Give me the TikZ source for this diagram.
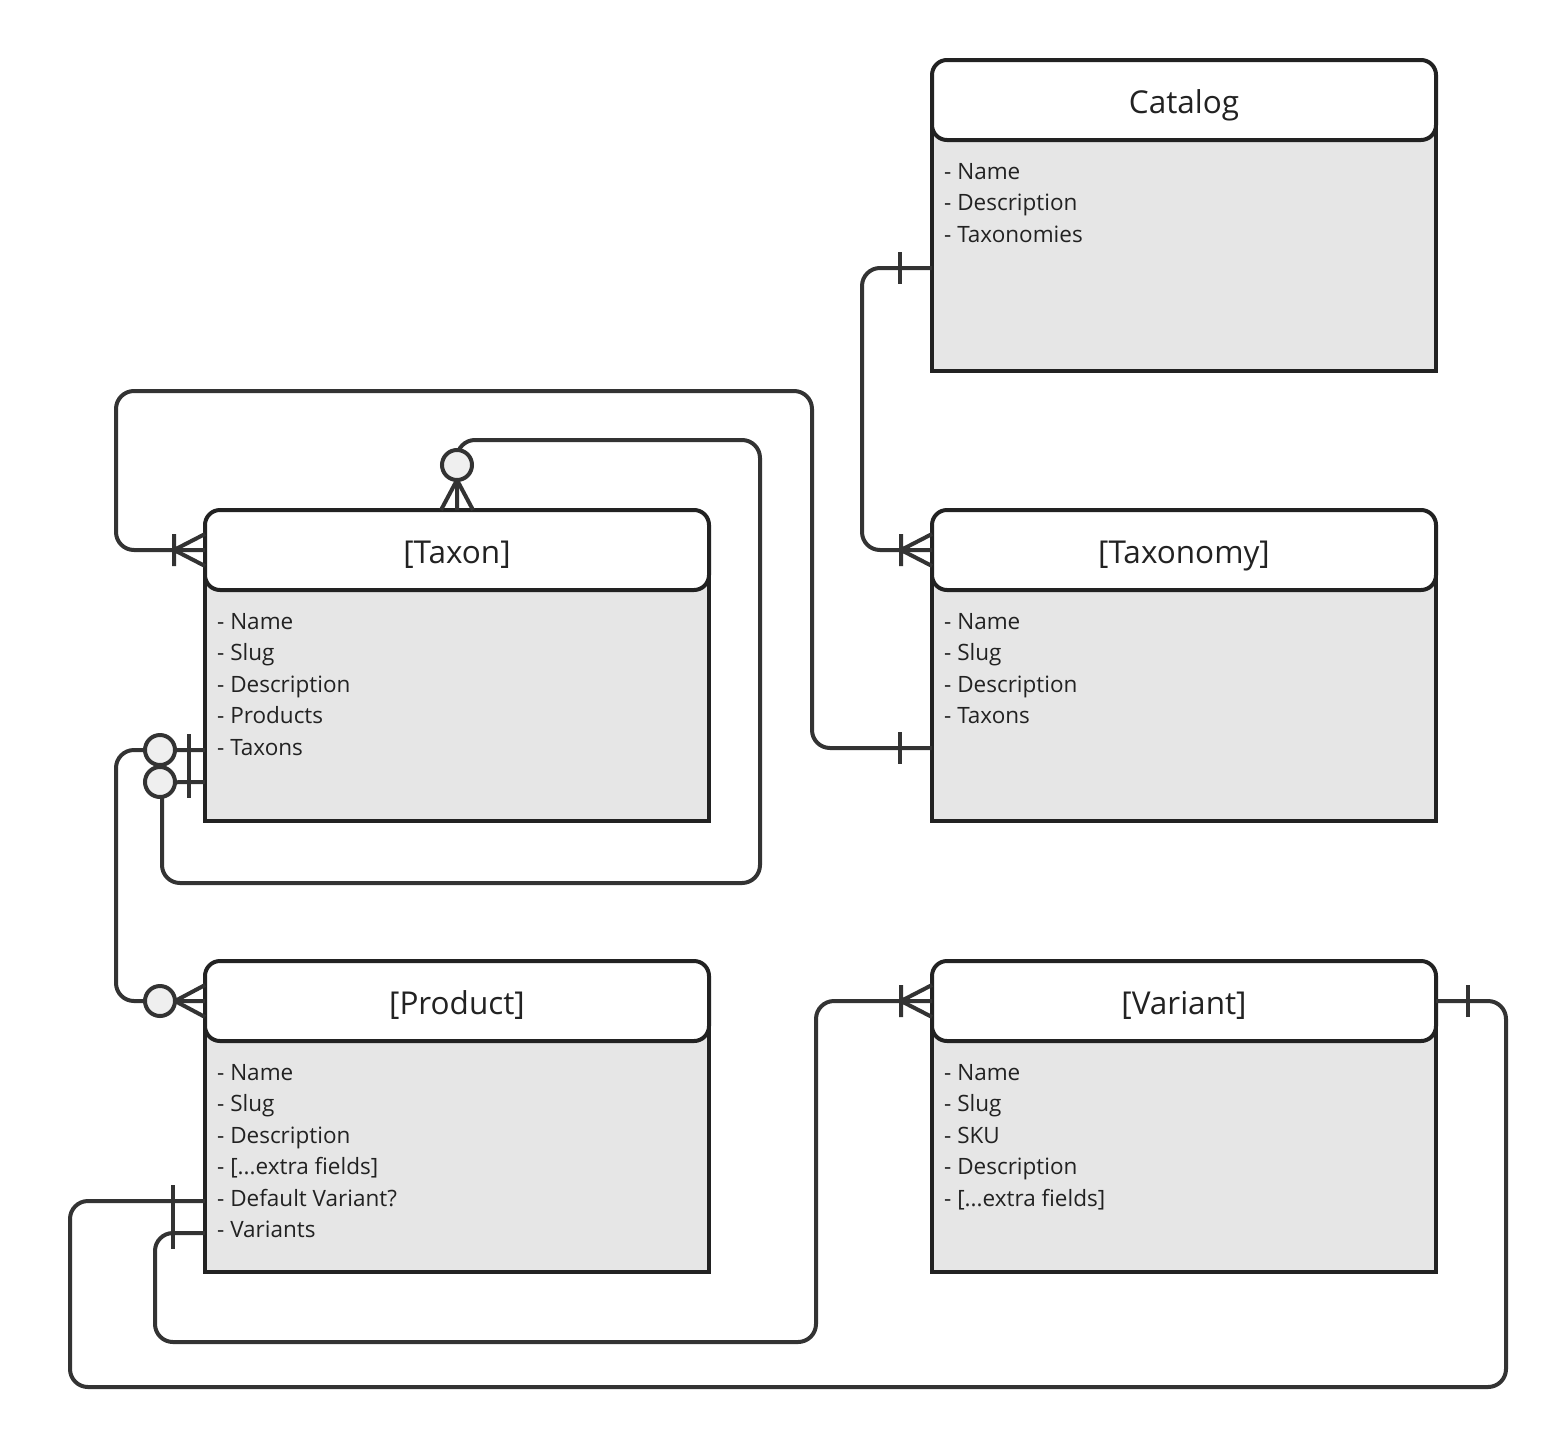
\documentclass[tikz,border=0pt]{standalone}
\usepackage{fontspec}
\setmainfont{Open Sans}

\definecolor{edge}{HTML}{222222}
\definecolor{conn}{HTML}{333333}
\definecolor{ink}{HTML}{222222}
\definecolor{bodyfill}{HTML}{E6E6E6}
\definecolor{dot}{HTML}{EFEFEF}

\tikzset{
	header/.style={draw=edge, line width=4pt, fill=white, rounded corners=15pt, minimum width=504pt, minimum height=80pt, inner sep=0pt, outer sep=0pt, text height=27pt, text depth=0pt, text=ink, font=\fontsize{31.5}{36}\selectfont},
	body/.style={draw=edge, line width=4pt, fill=bodyfill, minimum width=504pt, minimum height=271pt, outer sep=0pt},
	fields/.style={anchor=north west, inner sep=0pt, align=left, text=ink, font=\fontsize{22.5}{31.5}\selectfont},
	conn/.style={draw=conn, line width=4pt, rounded corners=18pt},
	marker/.style={draw=conn, line width=4pt},
	one-mark/.pic={\draw[marker] (-32,-16) -- (-32,16);},
	many-mark/.pic={\draw[marker] (0,-16) -- (-31,0) -- (0,16) (-31,-16) -- (-31,16);},
	zero-one-mark/.pic={\draw[marker] (-16,-16) -- (-16,16); \draw[marker, fill=dot] (-45,0) circle[radius=15pt];},
	zero-many-mark/.pic={\draw[marker] (0,-16) -- (-30,0) -- (0,16); \draw[marker, fill=dot] (-45,0) circle[radius=15pt];}
}

\begin{document}
\begin{tikzpicture}[x=1pt, y=-1pt]
			\fill[white] (0,0) rectangle (1562,1448);
			\useasboundingbox (0,0) rectangle (1562,1448);

			% entities
			\node[body] 	(catalog-body) 	at (1184, 235.5) 	{};
			\node[header] 	(catalog) 		at (1184, 100) 		{Catalog};
			\node[fields] 	(catalog-fields) 	at (944, 157) 	{\strut- Name\\- Description\\- Taxonomies};

			\node[body] 	(taxonomy-body) 	at (1184, 685.5) 	{};
			\node[header] 	(taxonomy) 		at (1184, 550) 		{[Taxonomy]};
			\node[fields] 	(taxonomy-fields) 	at (944, 607) 	{\strut- Name\\- Slug\\- Description\\- Taxons};

			\node[body] 	(taxon-body) 	at (457, 685.5) 	{};
			\node[header] 	(taxon) 		at (457, 550) 		{[Taxon]};
			\node[fields] 	(taxon-fields) 	at (217, 607) 	{\strut- Name\\- Slug\\- Description\\- Products\\- Taxons};

			\node[body] 	(product-body) 	at (457, 1136.5) 	{};
			\node[header] 	(product) 		at (457, 1001) 		{[Product]};
			\node[fields] 	(product-fields) 	at (217, 1058) 	{\strut- Name\\- Slug\\- Description\\- [...extra fields]\\- Default Variant?\\- Variants};

			\node[body] 	(variant-body) 	at (1184, 1136.5) 	{};
			\node[header] 	(variant) 		at (1184, 1001) 		{[Variant]};
			\node[fields] 	(variant-fields) 	at (944, 1058) 	{\strut- Name\\- Slug\\- SKU\\- Description\\- [...extra fields]};

			% attachment points on the fields
			\coordinate (catalog-taxonomies) 	at (932, 268);
			\coordinate (taxonomy-taxons) 	at (932, 748);
			\coordinate (taxon-taxons) 		at (205, 750);
			\coordinate (taxon-parent) 		at (205, 782);
			\coordinate (product-default) 	at (205, 1201);
			\coordinate (product-variants) 	at (205, 1233);

			% relations
			\draw[conn] (catalog-taxonomies) -- ++(-70,0) |- (taxonomy.west);
			\draw[conn] (taxonomy-taxons) -| (812,391) -| (116,550) -- (taxon.west);
			\draw[conn] (taxon.north) |- (760,440) |- (162,883) -- (162,782) [sharp corners] -- (taxon-parent);
			\draw[conn] (taxon-taxons) -| (116,1001) -- (product.west);
			\draw[conn] (product-variants) -| (155,1342) -| (816,1001) -- (variant.west);
			\draw[conn] (product-default) -| (70,1387) -| (1506,1001) -- (variant.east);

			% ends
			\pic at (catalog-taxonomies) {one-mark};
			\pic at (taxonomy.west) {many-mark};
			\pic at (taxonomy-taxons) {one-mark};
			\pic at (taxon.west) {many-mark};
			\pic[rotate=-90] at (taxon.north) {zero-many-mark};
			\pic at (taxon-taxons) {zero-one-mark};
			\pic at (taxon-parent) {zero-one-mark};
			\pic at (product.west) {zero-many-mark};
			\pic at (product-default) {one-mark};
			\pic at (product-variants) {one-mark};
			\pic at (variant.west) {many-mark};
			\pic[rotate=180] at (variant.east) {one-mark};
		\end{tikzpicture}
\end{document}
